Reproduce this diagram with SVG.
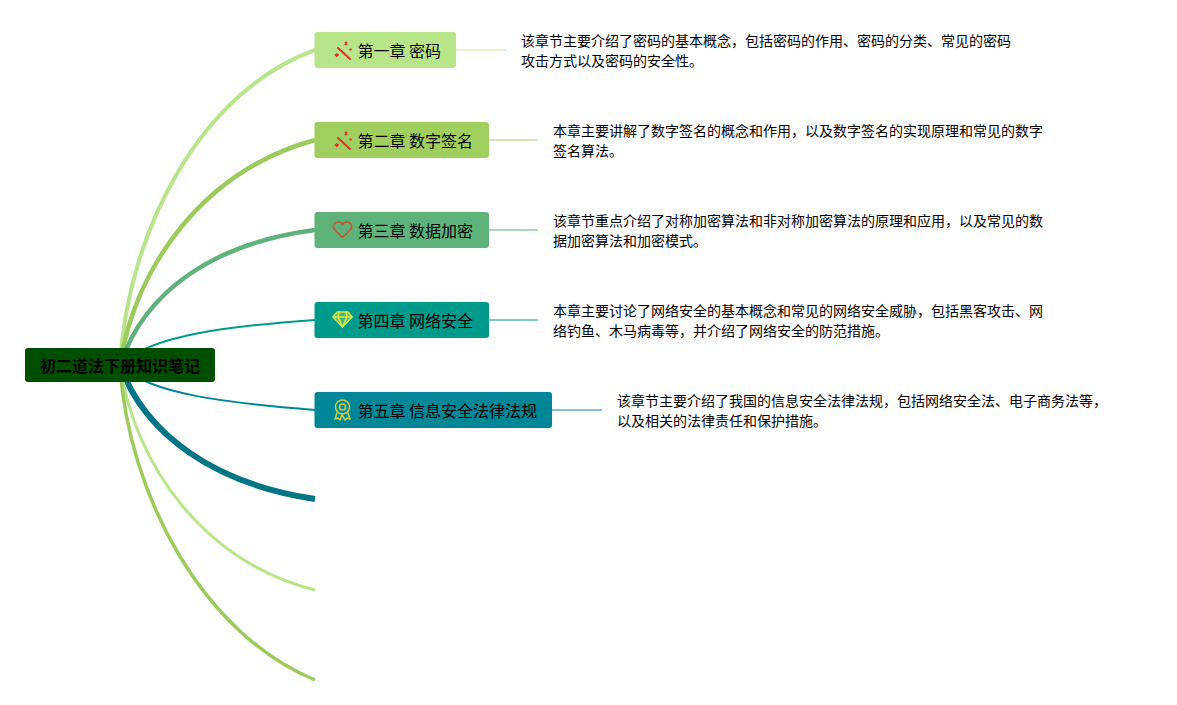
<svg xmlns="http://www.w3.org/2000/svg" width="1177" height="705" viewBox="0 0 1177 705">
<style>
text{font-family:"Noto Sans CJK SC","Noto Sans",sans-serif;fill:#000}
.t{font-size:16px}
.d{font-size:14px}
.r{font-size:16px;font-weight:700}
.c{fill:none;stroke-linecap:butt}
.i{fill:none;stroke-linecap:round;stroke-linejoin:round}
</style>
<rect width="1177" height="705" fill="#fff"/>
<g id="connectors">
<path class="c" d="M120 365C128 228 203 90 315 50" stroke="#b9e58a" stroke-width="4"/>
<path class="c" d="M120 365C135 265 205 170 315 140" stroke="#9ccb5c" stroke-width="4.500"/>
<path class="c" d="M120 365C145 290 215 243 315 230" stroke="#5fb37a" stroke-width="4.500"/>
<path class="c" d="M120 365C150 335 230 326 315 320" stroke="#009a8c" stroke-width="2"/>
<path class="c" d="M120 365C150 395 230 403 315 410" stroke="#008797" stroke-width="2"/>
<path class="c" d="M120 365C145 435 215 484 315 499" stroke="#007585" stroke-width="6"/>
<path class="c" d="M120 365C135 467 205 562 315 590" stroke="#b9e58a" stroke-width="3"/>
<path class="c" d="M120 365C128 495 203 634 315 680" stroke="#9ccb5c" stroke-width="3.500"/>
<path class="c" d="M456 50H506" stroke="#e0f3cc" stroke-width="2"/>
<path class="c" d="M489 140H538" stroke="#d3e8b6" stroke-width="2"/>
<path class="c" d="M489 230H538" stroke="#aed9bc" stroke-width="2"/>
<path class="c" d="M489 320H538" stroke="#80ccc5" stroke-width="2"/>
<path class="c" d="M552 410H602" stroke="#80c3cb" stroke-width="2"/>
</g>
<g id="root"><rect x="25" y="348" width="190" height="34" rx="3" fill="#004f00"/><text class="r" x="120" y="371.500" text-anchor="middle">初二道法下册知识笔记</text></g>
<g id="node1"><rect x="314.500" y="32" width="141.500" height="36" rx="3" fill="#b9e58a"/>
<g class="i" stroke="#d9342b"><path d="M338 48L350 59" stroke-width="2"/><path d="M335.500 55l2.500 0M336.700 53.800l0 2.500M345.500 42.500l1 2M346.500 42.500l-1 2M350 49.500h1" stroke-width="1.800"/></g>
<text class="t" x="357.500" y="56.500">第一章 密码</text></g>
<g id="node2"><rect x="314.500" y="122" width="174.500" height="36" rx="3" fill="#a0cf5f"/>
<g class="i" stroke="#d9342b"><path d="M338 138L350 149" stroke-width="2"/><path d="M335.500 145l2.500 0M336.700 143.800l0 2.500M345.500 132.500l1 2M346.500 132.500l-1 2M350 139.500h1" stroke-width="1.800"/></g>
<text class="t" x="357.500" y="146.500">第二章 数字签名</text></g>
<g id="node3"><rect x="314.500" y="212" width="174.500" height="36" rx="3" fill="#5fb37a"/>
<path class="i" stroke="#c0562f" stroke-width="1.600" d="M342.500 237.500L335 230C331 225 335 222 338 222C340 222 342 223 342.500 225C343 223 345 222 347 222C350 222 354 225 350 230Z"/>
<text class="t" x="357.500" y="236.500">第三章 数据加密</text></g>
<g id="node4"><rect x="314.500" y="302" width="174.500" height="36" rx="3" fill="#009a8c"/>
<g class="i" stroke="#d6e84a" stroke-width="1.600"><path d="M337 312H348L352 317L342.500 327L333 317Z" fill="#d6e84a" fill-opacity=".35"/><path d="M333 317H352M339 312L338 317L342.500 327L347 317L346 312"/></g>
<text class="t" x="357.500" y="326.500">第四章 网络安全</text></g>
<g id="node5"><rect x="314.500" y="392" width="237.500" height="36" rx="3" fill="#008797"/>
<g class="i" stroke="#c9cf44" stroke-width="1.600"><circle cx="342.500" cy="407" r="7"/><circle cx="342.500" cy="407" r="3"/><path d="M337 413L335 419L338 418L340 420L342 415L345 420L347 418L350 419L348 413"/></g>
<text class="t" x="357.500" y="416.500">第五章 信息安全法律法规</text></g>
<g id="desc1"><text class="d" x="521" y="46">该章节主要介绍了密码的基本概念，包括密码的作用、密码的分类、常见的密码</text><text class="d" x="521" y="66">攻击方式以及密码的安全性。</text></g>
<g id="desc2"><text class="d" x="553" y="136">本章主要讲解了数字签名的概念和作用，以及数字签名的实现原理和常见的数字</text><text class="d" x="553" y="156">签名算法。</text></g>
<g id="desc3"><text class="d" x="553" y="226">该章节重点介绍了对称加密算法和非对称加密算法的原理和应用，以及常见的数</text><text class="d" x="553" y="246">据加密算法和加密模式。</text></g>
<g id="desc4"><text class="d" x="553" y="316">本章主要讨论了网络安全的基本概念和常见的网络安全威胁，包括黑客攻击、网</text><text class="d" x="553" y="336">络钓鱼、木马病毒等，并介绍了网络安全的防范措施。</text></g>
<g id="desc5"><text class="d" x="617" y="406">该章节主要介绍了我国的信息安全法律法规，包括网络安全法、电子商务法等，</text><text class="d" x="617" y="426">以及相关的法律责任和保护措施。</text></g>
</svg>
